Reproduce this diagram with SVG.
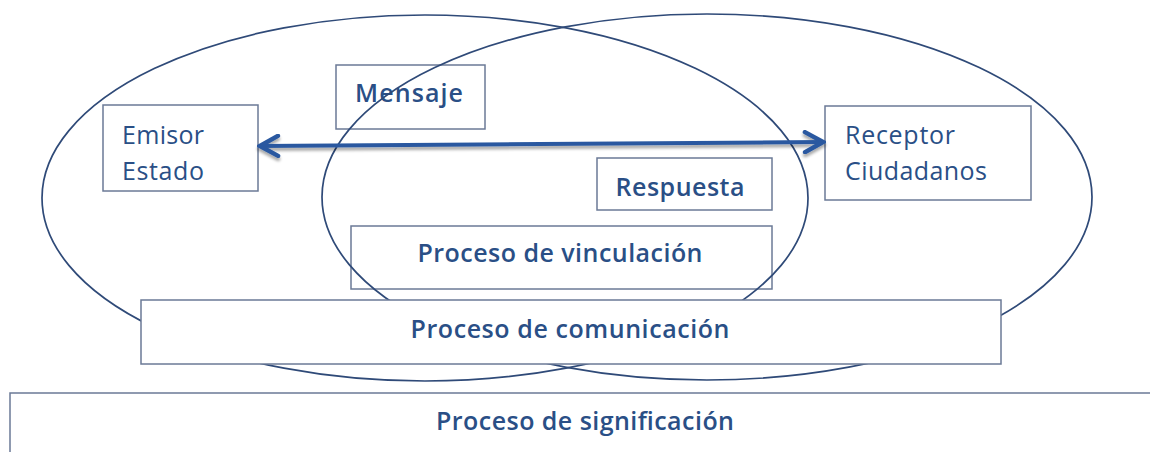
<svg xmlns="http://www.w3.org/2000/svg" width="1150" height="452" viewBox="0 0 1150 452">
<style>
.box{fill:#ffffff;stroke:#6b7a96;stroke-width:1.5}
.ell{fill:none;stroke:#2f4a78;stroke-width:1.7}
.t{font-family:"Open Sans","Liberation Sans",sans-serif;fill:#2a4f86}
.b{font-weight:600;font-size:25px;text-anchor:middle}
.r{font-size:25px}
</style>
<defs>
<marker id="ah" viewBox="0 0 24 24" refX="21" refY="12" markerWidth="24" markerHeight="24" orient="auto-start-reverse" markerUnits="userSpaceOnUse">
<path d="M3,2 L21,12 L3,22" fill="none" stroke="#2b59a0" stroke-width="4.5" stroke-linejoin="miter" stroke-linecap="round"/>
</marker>
<filter id="sh" filterUnits="userSpaceOnUse" x="230" y="110" width="620" height="70">
<feGaussianBlur in="SourceAlpha" stdDeviation="1.5"/>
<feOffset dx="0" dy="3" result="o"/>
<feComponentTransfer><feFuncA type="linear" slope="0.35"/></feComponentTransfer>
<feMerge><feMergeNode/><feMergeNode in="SourceGraphic"/></feMerge>
</filter>
</defs>
<rect width="1150" height="452" fill="#ffffff"/>
<g id="significacion">
<path d="M10,452 V393 H1150" fill="none" stroke="#6b7a96" stroke-width="1.5"/>
<text class="t b" x="585" y="430" textLength="298">Proceso de significación</text>
</g>
<g id="emisor">
<rect class="box" x="103" y="105" width="155" height="86"/>
<text class="t r" x="122" y="144" textLength="82">Emisor</text>
<text class="t r" x="122" y="180" textLength="82">Estado</text>
</g>
<g id="mensaje">
<rect class="box" x="336" y="65" width="149" height="64"/>
<text class="t b" x="409" y="102" textLength="108">Mensaje</text>
</g>
<g id="receptor">
<rect class="box" x="825" y="106" width="206" height="94"/>
<text class="t r" x="845" y="144" textLength="110">Receptor</text>
<text class="t r" x="845" y="180" textLength="142">Ciudadanos</text>
</g>
<g id="respuesta">
<rect class="box" x="597" y="158" width="175" height="52"/>
<text class="t b" x="680" y="196" textLength="129">Respuesta</text>
</g>
<g id="vinculacion">
<rect class="box" x="351" y="226" width="421" height="63"/>
<text class="t b" x="560" y="262" textLength="285">Proceso de vinculación</text>
</g>
<g id="ellipses">
<ellipse class="ell" cx="425" cy="198" rx="383" ry="183"/>
<ellipse class="ell" cx="707" cy="197" rx="385" ry="183"/>
</g>
<g id="connectors">
<line x1="260" y1="146" x2="823" y2="142" stroke="#2b59a0" stroke-width="4" marker-start="url(#ah)" marker-end="url(#ah)" filter="url(#sh)"/>
</g>
<g id="comunicacion">
<rect class="box" x="141" y="300" width="860" height="64"/>
<text class="t b" x="570" y="338" textLength="319">Proceso de comunicación</text>
</g>
</svg>
